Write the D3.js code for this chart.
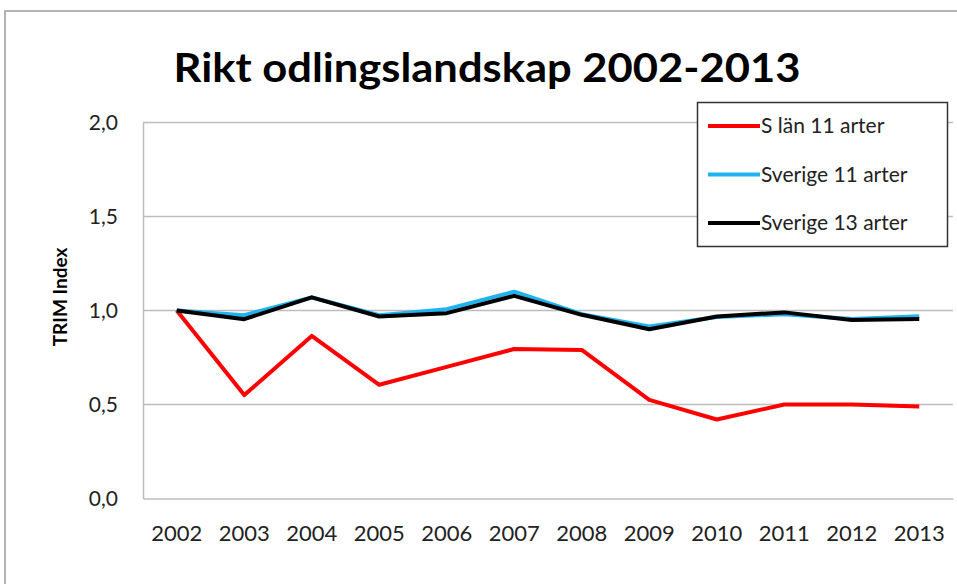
<!DOCTYPE html>
<html lang="sv">
  <meta charset="utf-8">
  <style>
    body { margin: 0; background: #fff; }
    text { font-family: Lato, "Open Sans", sans-serif; }
  </style>
  <body>
    <svg width="957" height="584"></svg>

    <script src="https://d3js.org/d3.v7.min.js"></script>
    <script>
    // data
    let years = ['2002','2003','2004','2005','2006','2007','2008','2009','2010','2011','2012','2013']
    let sLan11 = [1.0, 0.55, 0.865, 0.605, 0.70, 0.795, 0.79, 0.525, 0.42, 0.50, 0.50, 0.49]
    let sverige11 = [1.0, 0.975, 1.07, 0.975, 1.007, 1.10, 0.98, 0.915, 0.965, 0.98, 0.955, 0.97]
    let sverige13 = [1.0, 0.954, 1.07, 0.968, 0.986, 1.078, 0.977, 0.90, 0.968, 0.99, 0.95, 0.955]
    let yTicks = [0, 0.5, 1.0, 1.5, 2.0]
    let seriesNames = ['S län 11 arter', 'Sverige 11 arter', 'Sverige 13 arter']
    let seriesColors = ['#ff0000', '#1fb4f0', '#000000']

    let series = [sLan11, sverige11, sverige13]

    let svg = d3.select('svg')

    // outer frame
    svg.append('path')
       .attr('d', 'M5,584 V11 H957')
       .attr('fill', 'none')
       .attr('stroke', '#9a9a9a')
       .attr('stroke-width', 1.5)

    // title
    svg.append('text')
       .attr('x', 487).attr('y', 82)
       .attr('text-anchor', 'middle')
       .attr('font-size', '40px')
       .attr('font-weight', 'bold')
       .attr('textLength', 627)
       .attr('lengthAdjust', 'spacingAndGlyphs')
       .text('Rikt odlingslandskap 2002-2013')

    let x = d3.scaleBand()
              .domain(years)
              .range([143, 953])
    let y = d3.scaleLinear()
              .domain([0, 2])
              .range([498.5, 122.5])

    // gridlines
    svg.append('g').selectAll('line')
       .data(yTicks.filter(d => d > 0)).enter()
       .append('line')
       .attr('x1', 143).attr('x2', 953)
       .attr('y1', d => y(d)).attr('y2', d => y(d))
       .attr('stroke', '#bdbdbd')
       .attr('stroke-width', 1.5)

    // axes
    let yAxis = g => g.call(d3.axisLeft(y).tickValues(yTicks)
                      .tickSize(0).tickPadding(25)
                      .tickFormat(d => d3.format('.1f')(d).replace('.', ',')))
    let xAxis = g => g.call(d3.axisBottom(x).tickSize(0).tickPadding(27))

    let gy = svg.append('g').attr('transform', 'translate(143,0)').call(yAxis)
    gy.select('.domain').attr('stroke', '#bdbdbd').attr('stroke-width', 1.5)
    gy.selectAll('text').attr('font-size', '21px').attr('fill', '#222')
      .style('font-family', 'Lato, sans-serif')

    let gx = svg.append('g').attr('transform', 'translate(0,498.5)').call(xAxis)
    gx.select('.domain').attr('stroke', '#bdbdbd').attr('stroke-width', 1.5)
    gx.selectAll('text').attr('font-size', '22px').attr('fill', '#222')
      .style('font-family', 'Lato, sans-serif')

    // y axis title
    svg.append('text')
       .attr('transform', 'translate(67,297) rotate(-90)')
       .attr('text-anchor', 'middle')
       .attr('font-size', '19px')
       .attr('font-weight', 'bold')
       .text('TRIM Index')

    // lines
    let line = d3.line()
                 .x((d, i) => x(years[i]) + x.bandwidth() / 2)
                 .y(d => y(d))

    svg.append('g').selectAll('path')
       .data(series).enter()
       .append('path')
       .attr('d', d => line(d))
       .attr('fill', 'none')
       .attr('stroke', (d, i) => seriesColors[i])
       .attr('stroke-width', 4)
       .attr('stroke-linejoin', 'round')

    // legend
    let legend = svg.append('g')
    legend.append('rect')
       .attr('x', 697.5).attr('y', 102.5)
       .attr('width', 250).attr('height', 144)
       .attr('fill', '#fff')
       .attr('stroke', '#333')
       .attr('stroke-width', 1.5)

    let items = legend.selectAll('g.item')
       .data(seriesNames).enter()
       .append('g')
       .attr('transform', (d, i) => `translate(0,${126 + i * 48.5})`)
    items.append('line')
       .attr('x1', 708).attr('x2', 760)
       .attr('stroke', (d, i) => seriesColors[i])
       .attr('stroke-width', 4)
    items.append('text')
       .attr('x', 761).attr('y', 7)
       .attr('font-size', '21px')
       .attr('fill', '#222')
       .text(d => d)
    </script>
</body>
</html>
